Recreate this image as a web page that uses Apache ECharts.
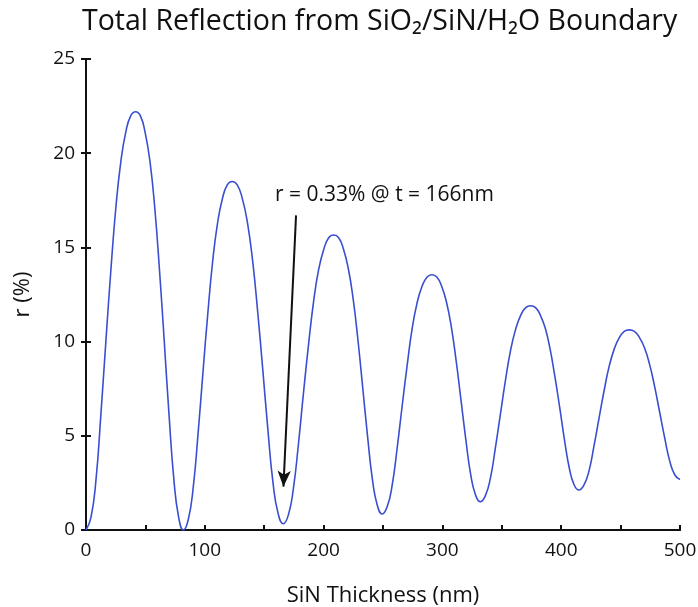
<!DOCTYPE html>
<html>
<head>
<meta charset="utf-8">
<script src="https://cdn.jsdelivr.net/npm/echarts@6/dist/echarts.min.js"></script>
<style>
  html, body { margin: 0; padding: 0; background: #fff; }
  #main { width: 698px; height: 607px; }
</style>
</head>
<body>
<div id="main"></div>
<script>
// SiN thickness (nm), one row per half-oscillation
var thickness = [
  0, 4.2, 8.4, 12.5, 16.7, 20.9, 25.1, 29.3, 33.4, 37.6, 41.8,
  45.8, 49.8, 53.9, 57.9, 61.9, 65.9, 69.9, 74.0, 78.0, 82.0,
  86.1, 90.2, 94.3, 98.4, 102.5, 106.6, 110.7, 114.8, 118.9, 123,
  127.3, 131.6, 135.9, 140.2, 144.5, 148.8, 153.1, 157.4, 161.7, 166,
  170.3, 174.5, 178.8, 183.0, 187.3, 191.6, 195.8, 200.1, 204.3, 208.6,
  212.7, 216.7, 220.8, 224.9, 229.0, 233.0, 237.1, 241.2, 245.3, 249.3,
  253.5, 257.7, 261.9, 266.1, 270.3, 274.4, 278.6, 282.8, 287.0, 291.2,
  295.3, 299.3, 303.4, 307.5, 311.6, 315.6, 319.7, 323.8, 327.9, 331.9,
  336.1, 340.4, 344.6, 348.9, 353.1, 357.3, 361.6, 365.8, 370.1, 374.3,
  378.4, 382.4, 386.5, 390.5, 394.6, 398.7, 402.7, 406.8, 410.8, 414.9,
  419.1, 423.4, 427.6, 431.9, 436.1, 440.3, 444.6, 448.8, 453.1, 457.3,
  461.6, 465.8, 470.1, 474.4, 478.7, 482.9, 487.2, 491.5, 495.7, 500
];
// reflection r (%)
var reflection = [
  0, 0.67, 2.66, 6.11, 9.99, 13.76, 17.09, 19.54, 21.09, 21.98, 22.2,
  21.98, 21.09, 19.54, 17.09, 13.76, 9.99, 6.11, 2.66, 0.67, 0,
  0.56, 2.22, 5.09, 8.33, 11.47, 14.25, 16.28, 17.58, 18.32, 18.5,
  18.32, 17.59, 16.32, 14.32, 11.6, 8.51, 5.33, 2.51, 0.88, 0.33,
  0.79, 2.17, 4.55, 7.23, 9.83, 12.13, 13.82, 14.89, 15.51, 15.66,
  15.51, 14.92, 13.88, 12.25, 10.03, 7.51, 4.92, 2.63, 1.29, 0.85,
  1.23, 2.37, 4.34, 6.57, 8.72, 10.63, 12.03, 12.92, 13.42, 13.55,
  13.43, 12.95, 12.10, 10.78, 8.97, 6.92, 4.81, 2.95, 1.86, 1.5,
  1.81, 2.75, 4.36, 6.18, 7.95, 9.51, 10.65, 11.38, 11.80, 11.9,
  11.8, 11.41, 10.73, 9.65, 8.18, 6.52, 4.81, 3.29, 2.41, 2.12,
  2.38, 3.14, 4.46, 5.95, 7.39, 8.67, 9.6, 10.2, 10.54, 10.62,
  10.54, 10.22, 9.67, 8.79, 7.6, 6.25, 4.86, 3.63, 2.92, 2.68
];
var xTicks = [0, 100, 200, 300, 400, 500];
var yTicks = [0, 5, 10, 15, 20, 25];
// annotation: minimum near 166 nm
var noteText = 'r = 0.33% @ t = 166nm';
var arrowFrom = [176.8, 16.7];
var arrowTo = [166.2, 2.3];

var FONT = 'Open Sans';
var INK = '#111';

var points = [];
for (var i = 0; i < thickness.length; i++) {
  points.push([thickness[i], reflection[i]]);
}

var myChart = echarts.init(document.getElementById('main'));
var option = {
  animation: false,
  backgroundColor: '#fff',
  title: {
    text: 'Total Reflection from SiO₂/SiN/H₂O Boundary',
    left: 82,
    top: 7,
    padding: 0,
    textStyle: { fontFamily: FONT, fontSize: 28.5, fontWeight: 'normal', color: INK }
  },
  grid: { left: 86, right: 18, top: 59, bottom: 77, outerBoundsMode: 'none' },
  xAxis: [
    {
      type: 'value', min: 0, max: 500, interval: 50,
      name: 'SiN Thickness (nm)', nameLocation: 'middle', nameGap: 55,
      nameTextStyle: { fontFamily: FONT, fontSize: 22, color: INK },
      axisLine: { lineStyle: { color: INK, width: 2 } },
      axisTick: { inside: true, length: 5, lineStyle: { color: INK, width: 2 } },
      axisLabel: {
        margin: 11, fontFamily: FONT, fontSize: 19, color: INK,
        formatter: function (v) { return xTicks.indexOf(v) >= 0 ? String(v) : ''; }
      },
      splitLine: { show: false }
    },
    {
      type: 'value', position: 'top', min: 0, max: 500,
      axisLine: { lineStyle: { color: INK, width: 2 } },
      axisTick: { show: false }, axisLabel: { show: false }, splitLine: { show: false }
    }
  ],
  yAxis: [
    {
      type: 'value', min: 0, max: 25, interval: 5,
      name: 'r (%)', nameLocation: 'middle', nameGap: 52,
      nameTextStyle: { fontFamily: FONT, fontSize: 22, color: INK },
      axisLine: { show: true, lineStyle: { color: INK, width: 2 } },
      axisTick: { show: true, inside: true, length: 5, lineStyle: { color: INK, width: 2 } },
      axisLabel: {
        margin: 11, fontFamily: FONT, fontSize: 19, color: INK,
        formatter: function (v) { return yTicks.indexOf(v) >= 0 ? String(v) : ''; }
      },
      splitLine: { show: false }
    },
    {
      type: 'value', position: 'right', min: 0, max: 25, interval: 5,
      axisLine: { show: true, lineStyle: { color: INK, width: 2 } },
      axisTick: { show: true, inside: true, length: 5, lineStyle: { color: INK, width: 2 } },
      axisLabel: { show: false }, splitLine: { show: false }
    }
  ],
  series: [
    {
      type: 'line',
      xAxisIndex: 0, yAxisIndex: 0,
      data: points,
      showSymbol: false,
      smooth: 0.5,
      lineStyle: { color: '#3a4fd0', width: 1.6 },
      markLine: {
        silent: true,
        symbol: ['none', 'arrow'],
        symbolSize: [10, 16],
        label: { show: false },
        lineStyle: { color: INK, width: 2, type: 'solid' },
        data: [[{ coord: arrowFrom }, { coord: arrowTo }]]
      }
    }
  ],
  graphic: [
    {
      type: 'text', left: 275, top: 185,
      style: { text: noteText, fontFamily: FONT, fontSize: 21, fill: INK }
    }
  ]
};
myChart.setOption(option);
</script>
</body>
</html>
